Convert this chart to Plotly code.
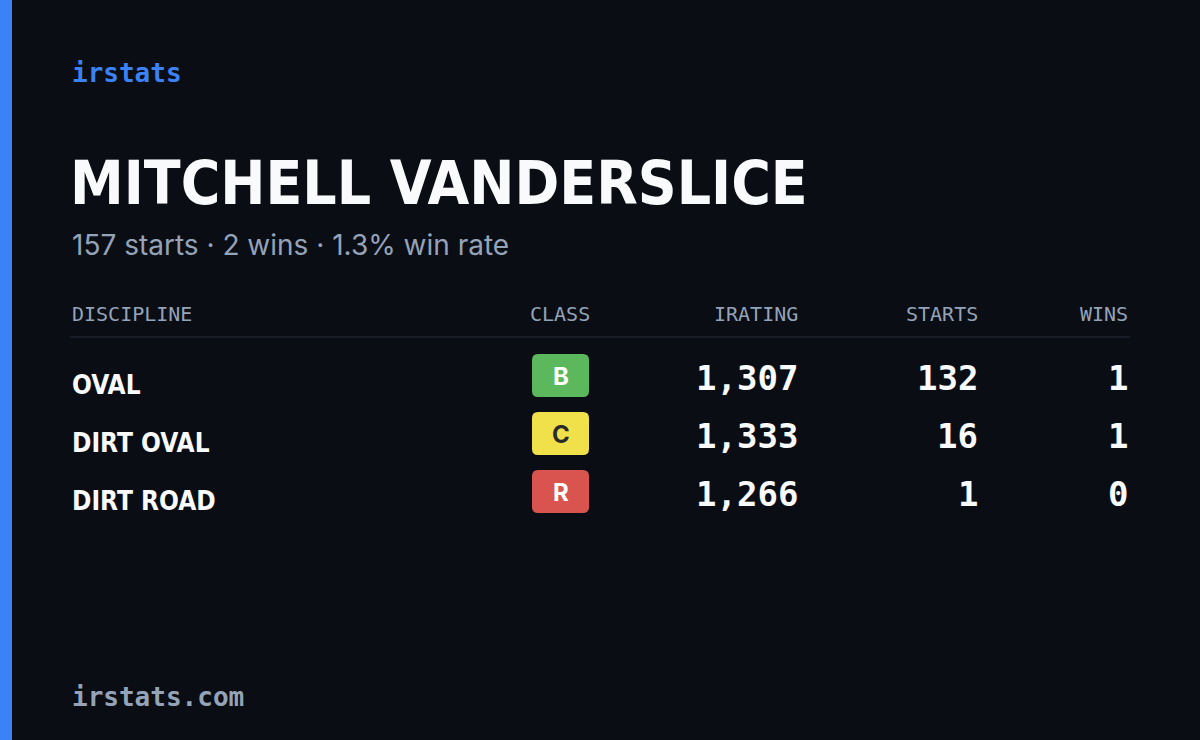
import plotly.graph_objects as go

disciplines = ["OVAL", "DIRT OVAL", "DIRT ROAD"]
classes = ["B", "C", "R"]
iratings = [1307, 1333, 1266]
starts = [132, 16, 1]
wins = [1, 1, 0]
total_starts = 157
total_wins = 2
headers = ["DISCIPLINE", "CLASS", "IRATING", "STARTS", "WINS"]
name = "MITCHELL VANDERSLICE"
class_colors = {"B": "#5cb85c", "C": "#f0e14a", "R": "#d9534f"}
class_text = {"B": "#ffffff", "C": "#2a2a2a", "R": "#ffffff"}

BG = "#0a0d14"
GRAY = "#94a3b8"
MONO = "DejaVu Sans Mono"
COND = "DejaVu Sans Condensed"

fig = go.Figure()
fig.add_trace(go.Scatter(x=[0], y=[0], mode="markers", marker=dict(opacity=0), hoverinfo="skip"))

ann = []
def t(x, y, s, size, color, font, anchor="left", bold=False):
    ann.append(dict(x=x, y=y, xref="x", yref="y", text=f"<b>{s}</b>" if bold else s,
                    showarrow=False, xanchor=anchor, yanchor="middle",
                    font=dict(size=size, color=color, family=font)))

shapes = [dict(type="rect", x0=0, x1=12, y0=0, y1=740, xref="x", yref="y",
               fillcolor="#3b82f6", line=dict(width=0), layer="below"),
          dict(type="line", x0=70, x1=1130, y0=337, y1=337, xref="x", yref="y",
               line=dict(color="#1c222d", width=1.5))]

t(70, 73, "irstats", 26, "#3b82f6", MONO, bold=True)
t(68, 183, name, 60, "#f8fafc", COND, bold=True)
t(70, 245, f"{total_starts} starts · {total_wins} wins · {total_wins/total_starts*100:.1f}% win rate", 28, GRAY, "Inter")

hx = [70, 560, 800, 980, 1130]
ha = ["left", "center", "right", "right", "right"]
for h, x, a in zip(headers, hx, ha):
    t(x, 314, h, 20, GRAY, MONO, a)

rows_y = [380, 438, 496]
for i, y in enumerate(rows_y):
    t(70, y + 5, disciplines[i], 26, "#f8fafc", COND, bold=True)
    c = classes[i]
    x0, x1, y0, y1, r = 532, 589, y - 26, y + 17, 6
    path = (f"M{x0+r},{y0} L{x1-r},{y0} Q{x1},{y0} {x1},{y0+r} L{x1},{y1-r} Q{x1},{y1} {x1-r},{y1} "
            f"L{x0+r},{y1} Q{x0},{y1} {x0},{y1-r} L{x0},{y0+r} Q{x0},{y0} {x0+r},{y0} Z")
    shapes.append(dict(type="path", path=path, xref="x", yref="y",
                       fillcolor=class_colors[c], line=dict(width=0)))
    t(560.5, y - 4, c, 24, class_text[c], "Inter", "center", bold=True)
    t(800, y - 2, f"{iratings[i]:,}", 34, "#f8fafc", MONO, "right", bold=True)
    t(980, y - 2, str(starts[i]), 34, "#f8fafc", MONO, "right", bold=True)
    t(1130, y - 2, str(wins[i]), 34, "#f8fafc", MONO, "right", bold=True)

t(70, 697, "irstats.com", 26, GRAY, MONO, bold=True)

fig.update_layout(width=1200, height=740, margin=dict(l=0, r=0, t=0, b=0),
                  paper_bgcolor=BG, plot_bgcolor=BG, showlegend=False,
                  xaxis=dict(range=[0, 1200], visible=False, fixedrange=True),
                  yaxis=dict(range=[740, 0], visible=False, fixedrange=True),
                  annotations=ann, shapes=shapes)
fig.write_html("out.html", config={"displayModeBar": False},
               post_script="document.body.style.margin='0';document.body.style.background='#0a0d14';")
